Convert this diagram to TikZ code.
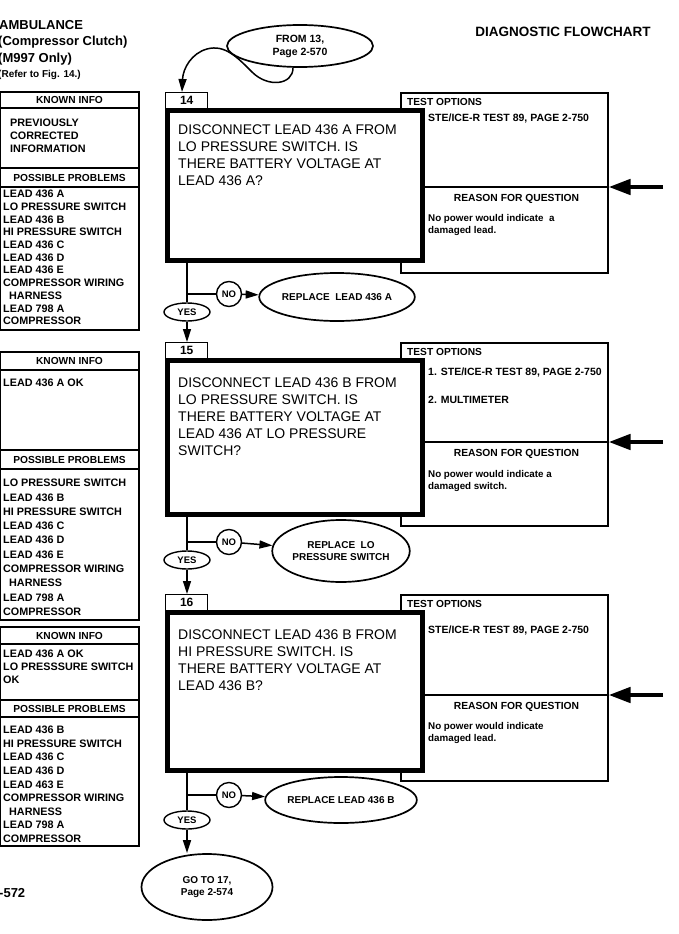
\documentclass[tikz,border=0pt]{standalone}
\usepackage{fontspec}
\setmainfont{Liberation Sans}
\usetikzlibrary{positioning,shapes.geometric,arrows.meta,calc}

\tikzset{
  qbox/.style={draw, fill=white, line width=4.5pt, minimum width=255pt, anchor=north west, inner sep=0pt},
  numbox/.style={draw, fill=white, line width=1.4pt, minimum width=42pt, minimum height=16pt, anchor=north west, inner sep=0pt, font=\fontsize{12}{12}\bfseries},
  optbox/.style={draw, line width=1.5pt, minimum width=207pt, anchor=north west, inner sep=0pt},
  qtext/.style={anchor=north west, align=left, inner sep=0pt, font=\fontsize{14}{16.8}\selectfont},
  otext/.style={anchor=north west, align=left, inner sep=0pt, font=\fontsize{9.8}{12}\bfseries},
  stetext/.style={otext, font=\fontsize{10.5}{12}\bfseries},
  ohead/.style={anchor=north west, inner sep=0pt, font=\fontsize{10.2}{12}\bfseries},
  rhead/.style={inner sep=0pt, font=\fontsize{10.3}{12}\bfseries},
  oval/.style={draw, fill=white, ellipse, line width=1.7pt, inner sep=0pt, align=center, font=\fontsize{10}{12}\bfseries},
  nocirc/.style={draw, fill=white, circle, line width=1.4pt, minimum size=25pt, inner sep=0pt, font=\fontsize{9.5}{10}\bfseries},
  yesoval/.style={draw, fill=white, ellipse, line width=1.4pt, minimum width=46pt, minimum height=18pt, inner sep=0pt, font=\fontsize{9.5}{10}\bfseries},
  flow/.style={line width=1.5pt},
  flowarr/.style={line width=1.5pt, -{Triangle[length=13pt,width=8pt]}},
  bigarr/.style={line width=4.5pt, -{Triangle[length=22pt,width=15pt]}},
  cell/.style={draw, line width=1.2pt, minimum width=139pt, anchor=north, inner sep=0pt, outer sep=0pt},
  chead/.style={cell, font=\fontsize{10.2}{12}\bfseries},
  ctext/.style={anchor=north west, align=left, inner sep=0pt, font=\fontsize{10.8}{12.7}\bfseries},
  headtxt/.style={anchor=west, inner sep=0pt, font=\fontsize{13}{15}\bfseries},
}

\begin{document}
\begin{tikzpicture}[x=1pt, y=-1pt]
\fill[white] (0,0) rectangle (678,934);
\useasboundingbox (0,0) rectangle (678,934);

% page head
\node[headtxt] (h1) at (-1,25) {AMBULANCE};
\node[headtxt] (h2) at (-2,42) {(Compressor Clutch)};
\node[headtxt] (h3) at (-2,59) {(M997 Only)};
\node[headtxt, font=\fontsize{10}{12}\bfseries] (h4) at (-2,75) {(Refer to Fig. 14.)};
\node[inner sep=0pt, font=\fontsize{13.5}{15}\bfseries] (title) at (563,32) {DIAGNOSTIC FLOWCHART};
\node[headtxt] (pg) at (-1,893) {-572};

% left column, step 14
\coordinate (c1) at (69.5,92);
\node[chead, minimum height=16pt] (k1h) at (c1) {KNOWN INFO};
\node[cell, minimum height=60pt, below=0pt of k1h] (k1b) {};
\node[chead, minimum height=19pt, below=0pt of k1b] (p1h) {POSSIBLE PROBLEMS};
\node[cell, minimum height=143pt, below=0pt of p1h] (p1b) {};
\node[ctext] (k1t) at ([xshift=10pt,yshift=-11pt]k1b.north west) {PREVIOUSLY\\CORRECTED\\INFORMATION};
\node[ctext] (p1t) at ([xshift=3pt,yshift=-3pt]p1b.north west)
  {LEAD 436 A\\LO PRESSURE SWITCH\\LEAD 436 B\\HI PRESSURE SWITCH\\LEAD 436 C\\LEAD 436 D\\LEAD 436 E\\COMPRESSOR WIRING\\\hspace*{6pt}HARNESS\\LEAD 798 A\\COMPRESSOR};

% left column, step 15
\coordinate (c2) at (69.5,352);
\node[chead, minimum height=18pt] (k2h) at (c2) {KNOWN INFO};
\node[cell, minimum height=80pt, below=0pt of k2h] (k2b) {};
\node[chead, minimum height=19pt, below=0pt of k2b] (p2h) {POSSIBLE PROBLEMS};
\node[cell, minimum height=151pt, below=0pt of p2h] (p2b) {};
\node[ctext] (k2t) at ([xshift=3pt,yshift=-9pt]k2b.north west) {LEAD 436 A OK};
\node[ctext, font=\fontsize{10.8}{14.3}\bfseries] (p2t) at ([xshift=3pt,yshift=-10pt]p2b.north west)
  {LO PRESSURE SWITCH\\LEAD 436 B\\HI PRESSURE SWITCH\\LEAD 436 C\\LEAD 436 D\\LEAD 436 E\\COMPRESSOR WIRING\\\hspace*{6pt}HARNESS\\LEAD 798 A\\COMPRESSOR};

% left column, step 16
\coordinate (c3) at (69.5,627);
\node[chead, minimum height=17pt] (k3h) at (c3) {KNOWN INFO};
\node[cell, minimum height=56pt, below=0pt of k3h] (k3b) {};
\node[chead, minimum height=17pt, below=0pt of k3b] (p3h) {POSSIBLE PROBLEMS};
\node[cell, minimum height=129pt, below=0pt of p3h] (p3b) {};
\node[ctext] (k3t) at ([xshift=3pt,yshift=-6pt]k3b.north west) {LEAD 436 A OK\\LO PRESSSURE SWITCH\\OK};
\node[ctext, font=\fontsize{10.8}{13.6}\bfseries] (p3t) at ([xshift=3pt,yshift=-9pt]p3b.north west)
  {LEAD 436 B\\HI PRESSURE SWITCH\\LEAD 436 C\\LEAD 436 D\\LEAD 463 E\\COMPRESSOR WIRING\\\hspace*{6pt}HARNESS\\LEAD 798 A\\COMPRESSOR};

% test option boxes (behind the questions)
\node[optbox, minimum height=180pt] (o14) at (400,92) {};
\node[optbox, minimum height=183pt] (o15) at (400,342) {};
\node[optbox, minimum height=186pt] (o16) at (400,594) {};

% question boxes
\node[numbox] (n14) at (165,92) {14};
\node[qbox, minimum height=150pt] (q14) at (165,108) {};
\node[numbox] (n15) at (165,342) {15};
\node[qbox, minimum height=154pt] (q15) at (165,358) {};
\node[numbox] (n16) at (165,594) {16};
\node[qbox, minimum height=158pt] (q16) at (165,610) {};

\node[qtext] (q14t) at ([xshift=13pt,yshift=-17pt]q14.north west)
  {DISCONNECT LEAD 436 A FROM\\LO PRESSURE SWITCH. IS\\THERE BATTERY VOLTAGE AT\\LEAD 436 A?};
\node[qtext] (q15t) at ([xshift=13pt,yshift=-20pt]q15.north west)
  {DISCONNECT LEAD 436 B FROM\\LO PRESSURE SWITCH. IS\\THERE BATTERY VOLTAGE AT\\LEAD 436 AT LO PRESSURE\\SWITCH?};
\node[qtext] (q16t) at ([xshift=13pt,yshift=-20pt]q16.north west)
  {DISCONNECT LEAD 436 B FROM\\HI PRESSURE SWITCH. IS\\THERE BATTERY VOLTAGE AT\\LEAD 436 B?};

% separators, reason headers and side arrows
\foreach \s/\y in {14/187,15/442,16/695} {
  \coordinate (s\s) at (0,\y);
  \coordinate (a\s) at (663,\y);
  \draw[line width=1.5pt] (q\s.east |- s\s) -- (o\s.east |- s\s);
  \node[rhead] (r\s) at ($(q\s.east |- s\s)!0.5!(o\s.east |- s\s)+(0,12)$) {REASON FOR QUESTION};
  \node[ohead] (t\s) at ([xshift=7pt,yshift=-6pt]o\s.north west) {TEST OPTIONS};
  \draw[bigarr] (a\s) -- (o\s.east |- a\s);
}

\node[stetext] (t14a) at ([xshift=28pt,yshift=-22pt]o14.north west) {STE/ICE-R TEST 89, PAGE 2-750};
\node[otext] (w14) at ([xshift=28pt,yshift=-27pt]o14.west |- s14) {No power would indicate\ \ a\\damaged lead.};

\node[stetext] (t15a) at ([xshift=28pt,yshift=-26pt]o15.north west) {1. STE/ICE-R TEST 89, PAGE 2-750};
\node[stetext] (t15b) at ([xshift=28pt,yshift=-54pt]o15.north west) {2. MULTIMETER};
\node[otext] (w15) at ([xshift=28pt,yshift=-28pt]o15.west |- s15) {No power would indicate a\\damaged switch.};

\node[stetext] (t16a) at ([xshift=28pt,yshift=-32pt]o16.north west) {STE/ICE-R TEST 89, PAGE 2-750};
\node[otext] (w16) at ([xshift=28pt,yshift=-27pt]o16.west |- s16) {No power would indicate\\damaged lead.};

% entry
\node[oval, minimum width=146pt, minimum height=42pt, font=\fontsize{10.5}{13}\bfseries] (from13) at (300,46) {FROM 13,\\Page 2-570};
\coordinate (in14) at ([xshift=17pt]n14.north west);
\draw[flowarr] ([xshift=-7pt]from13.south) .. controls (293,85) and (268,88) .. (252,72)
  .. controls (238,58) and (225,44) .. (207,49) .. controls (192,53) and (183,68) .. (in14);

% step 14 answers
\node[yesoval] (yes14) at (187,312) {YES};
\node[nocirc] (no14) at (229,294) {NO};
\node[oval, minimum width=135pt, minimum height=48pt] (rep14) at (337,297) {REPLACE\ \ LEAD 436 A};
\coordinate (b14) at (187,294);
\draw[flow] (q14.south -| b14) -- (yes14.north);
\draw[flow] (b14) -- (no14);
\draw[flowarr] (no14) -- (rep14);
\draw[flowarr] (yes14) -- (n15.north -| yes14);

% step 15 answers
\node[yesoval] (yes15) at (187,560) {YES};
\node[nocirc] (no15) at (229,542) {NO};
\node[oval, minimum width=137pt, minimum height=62pt] (rep15) at (341,551) {REPLACE\ \ LO\\PRESSURE SWITCH};
\coordinate (b15) at (187,542);
\draw[flow] (q15.south -| b15) -- (yes15.north);
\draw[flow] (b15) -- (no15);
\draw[flowarr] (no15) -- (rep15);
\draw[flowarr] (yes15) -- (n16.north -| yes15);

% step 16 answers
\node[yesoval] (yes16) at (187,820) {YES};
\node[nocirc] (no16) at (229,795) {NO};
\node[oval, minimum width=137pt, minimum height=46pt] (rep16) at (341,800) {REPLACE LEAD 436 B};
\coordinate (b16) at (187,795);
\draw[flow] (q16.south -| b16) -- (yes16.north);
\draw[flow] (b16) -- (no16);
\draw[flowarr] (no16) -- (rep16);

\node[oval, minimum width=131pt, minimum height=66pt] (go17) at (207,887) {GO TO 17,\\Page 2-574};
\draw[flowarr] (yes16) -- (yes16.south |- go17.north);
\end{tikzpicture}
\end{document}
